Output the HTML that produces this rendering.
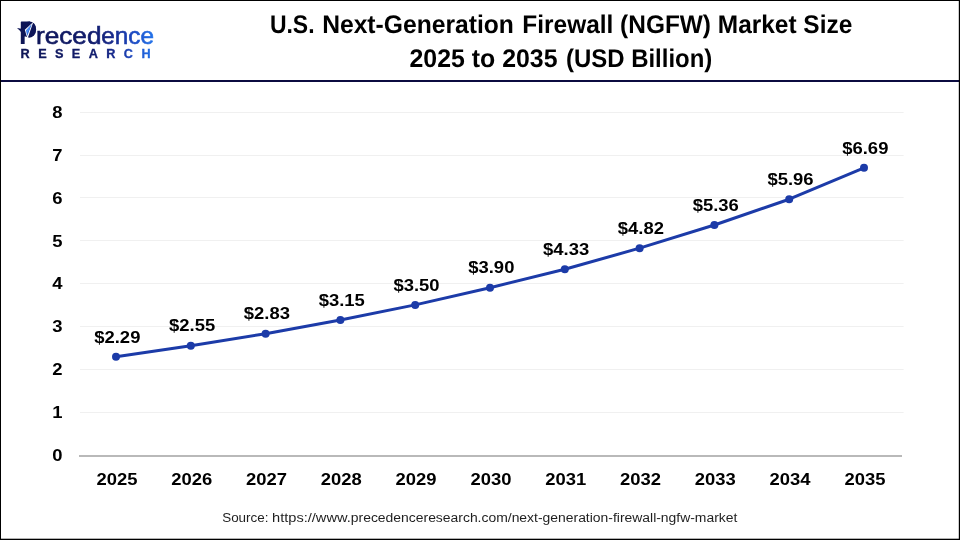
<!DOCTYPE html>
<html lang="en">
<head>
<meta charset="utf-8">
<title>U.S. Next-Generation Firewall (NGFW) Market Size 2025 to 2035 (USD Billion)</title>
<style>
html,body{margin:0;padding:0;background:#fff;}
body{width:960px;height:540px;overflow:hidden;}
svg{display:block;}
text{font-family:"Liberation Sans",sans-serif;}
.b{font-weight:700;fill:#000;}
.t{text-rendering:geometricPrecision;}
</style>
</head>
<body>
<svg width="960" height="540" viewBox="0 0 960 540">
<defs>
<linearGradient id="lg" gradientUnits="userSpaceOnUse" x1="18" y1="0" x2="153" y2="0">
<stop offset="0" stop-color="#0d1454"/>
<stop offset="0.55" stop-color="#111c6c"/>
<stop offset="0.7" stop-color="#16288a"/>
<stop offset="0.85" stop-color="#1c48c0"/>
<stop offset="1" stop-color="#2272ea"/>
</linearGradient>
<linearGradient id="lg2" gradientUnits="userSpaceOnUse" x1="-2.45" y1="0" x2="124.9" y2="0">
<stop offset="0" stop-color="#0d1454"/>
<stop offset="0.55" stop-color="#111c6c"/>
<stop offset="0.7" stop-color="#16288a"/>
<stop offset="0.85" stop-color="#1c48c0"/>
<stop offset="1" stop-color="#2272ea"/>
</linearGradient>
</defs>
<rect x="0" y="0" width="960" height="540" fill="#fff"/>
<rect x="80" y="412" width="823.6" height="1" fill="#f0f0f0"/>
<rect x="80" y="369" width="823.6" height="1" fill="#f0f0f0"/>
<rect x="80" y="326" width="823.6" height="1" fill="#f0f0f0"/>
<rect x="80" y="283" width="823.6" height="1" fill="#f0f0f0"/>
<rect x="80" y="240" width="823.6" height="1" fill="#f0f0f0"/>
<rect x="80" y="197" width="823.6" height="1" fill="#f0f0f0"/>
<rect x="80" y="155" width="823.6" height="1" fill="#f0f0f0"/>
<rect x="80" y="112" width="823.6" height="1" fill="#f0f0f0"/>
<rect x="79" y="455" width="823" height="2" fill="#b9b9b9"/>
<text class="b" font-size="16.5" text-anchor="middle" transform="translate(57.4,460.95) scale(1.118,1)">0</text>
<text class="b" font-size="16.5" text-anchor="middle" transform="translate(57.4,417.95) scale(1.118,1)">1</text>
<text class="b" font-size="16.5" text-anchor="middle" transform="translate(57.4,374.95) scale(1.118,1)">2</text>
<text class="b" font-size="16.5" text-anchor="middle" transform="translate(57.4,331.95) scale(1.118,1)">3</text>
<text class="b" font-size="16.5" text-anchor="middle" transform="translate(57.4,288.95) scale(1.118,1)">4</text>
<text class="b" font-size="16.5" text-anchor="middle" transform="translate(57.4,246.90) scale(1.118,1)">5</text>
<text class="b" font-size="16.5" text-anchor="middle" transform="translate(57.4,203.95) scale(1.118,1)">6</text>
<text class="b" font-size="16.5" text-anchor="middle" transform="translate(57.4,160.95) scale(1.118,1)">7</text>
<text class="b" font-size="16.5" text-anchor="middle" transform="translate(57.4,118.00) scale(1.118,1)">8</text>
<text class="b" font-size="16.5" text-anchor="middle" transform="translate(116.90,485) scale(1.118,1)">2025</text>
<text class="b" font-size="16.5" text-anchor="middle" transform="translate(191.70,485) scale(1.118,1)">2026</text>
<text class="b" font-size="16.5" text-anchor="middle" transform="translate(266.50,485) scale(1.118,1)">2027</text>
<text class="b" font-size="16.5" text-anchor="middle" transform="translate(341.30,485) scale(1.118,1)">2028</text>
<text class="b" font-size="16.5" text-anchor="middle" transform="translate(416.10,485) scale(1.118,1)">2029</text>
<text class="b" font-size="16.5" text-anchor="middle" transform="translate(490.90,485) scale(1.118,1)">2030</text>
<text class="b" font-size="16.5" text-anchor="middle" transform="translate(565.70,485) scale(1.118,1)">2031</text>
<text class="b" font-size="16.5" text-anchor="middle" transform="translate(640.50,485) scale(1.118,1)">2032</text>
<text class="b" font-size="16.5" text-anchor="middle" transform="translate(715.30,485) scale(1.118,1)">2033</text>
<text class="b" font-size="16.5" text-anchor="middle" transform="translate(790.10,485) scale(1.118,1)">2034</text>
<text class="b" font-size="16.5" text-anchor="middle" transform="translate(864.90,485) scale(1.118,1)">2035</text>
<polyline points="116.00,356.84 190.80,345.68 265.60,333.65 340.40,319.91 415.20,304.88 490.00,287.69 564.80,269.23 639.60,248.18 714.40,224.99 789.20,199.22 864.00,167.86" fill="none" stroke="#1c3ba8" stroke-width="3" stroke-linejoin="round" stroke-linecap="round"/>
<circle cx="116.00" cy="356.84" r="4" fill="#1c3ba8"/>
<circle cx="190.80" cy="345.68" r="4" fill="#1c3ba8"/>
<circle cx="265.60" cy="333.65" r="4" fill="#1c3ba8"/>
<circle cx="340.40" cy="319.91" r="4" fill="#1c3ba8"/>
<circle cx="415.20" cy="304.88" r="4" fill="#1c3ba8"/>
<circle cx="490.00" cy="287.69" r="4" fill="#1c3ba8"/>
<circle cx="564.80" cy="269.23" r="4" fill="#1c3ba8"/>
<circle cx="639.60" cy="248.18" r="4" fill="#1c3ba8"/>
<circle cx="714.40" cy="224.99" r="4" fill="#1c3ba8"/>
<circle cx="789.20" cy="199.22" r="4" fill="#1c3ba8"/>
<circle cx="864.00" cy="167.86" r="4" fill="#1c3ba8"/>
<text class="b" font-size="16.5" text-anchor="middle" transform="translate(117.30,342.50) scale(1.118,1)">$2.29</text>
<text class="b" font-size="16.5" text-anchor="middle" transform="translate(192.10,330.60) scale(1.118,1)">$2.55</text>
<text class="b" font-size="16.5" text-anchor="middle" transform="translate(266.90,318.50) scale(1.118,1)">$2.83</text>
<text class="b" font-size="16.5" text-anchor="middle" transform="translate(341.70,305.50) scale(1.118,1)">$3.15</text>
<text class="b" font-size="16.5" text-anchor="middle" transform="translate(416.50,290.50) scale(1.118,1)">$3.50</text>
<text class="b" font-size="16.5" text-anchor="middle" transform="translate(491.30,272.90) scale(1.118,1)">$3.90</text>
<text class="b" font-size="16.5" text-anchor="middle" transform="translate(566.10,254.50) scale(1.118,1)">$4.33</text>
<text class="b" font-size="16.5" text-anchor="middle" transform="translate(640.90,233.50) scale(1.118,1)">$4.82</text>
<text class="b" font-size="16.5" text-anchor="middle" transform="translate(715.70,210.50) scale(1.118,1)">$5.36</text>
<text class="b" font-size="16.5" text-anchor="middle" transform="translate(790.50,184.50) scale(1.118,1)">$5.96</text>
<text class="b" font-size="16.5" text-anchor="middle" transform="translate(865.30,153.50) scale(1.118,1)">$6.69</text>
<rect x="0" y="80" width="960" height="2" fill="#0b0b40"/>
<text class="b t" font-size="25.6" y="33"><tspan x="269.9" textLength="44.7" lengthAdjust="spacingAndGlyphs">U.S.</tspan> <tspan x="322.14" textLength="191.77" lengthAdjust="spacingAndGlyphs">Next-Generation</tspan> <tspan x="522.35" textLength="329.88" lengthAdjust="spacingAndGlyphs">Firewall (NGFW) Market Size</tspan></text>
<text class="b t" font-size="25.6" y="67"><tspan x="409.5" textLength="148" lengthAdjust="spacingAndGlyphs">2025 to 2035</tspan> <tspan x="566.0" textLength="146.3" lengthAdjust="spacingAndGlyphs">(USD Billion)</tspan></text>
<g fill="url(#lg)">
<ellipse cx="29.4" cy="29.6" rx="6.7" ry="8.1"/>
<rect x="21.1" y="21.5" width="9" height="8"/>
<path d="M17.0,28.0 L25,29.2 L25,31 L22.4,34.6 Q21,31 17.0,28.0 Z"/>
<text><tspan font-size="31.2" font-weight="700" x="19.1" y="43.9" textLength="17.9" lengthAdjust="spacingAndGlyphs">P</tspan><tspan font-size="24.6" x="36.0" y="44.1" textLength="65.5" lengthAdjust="spacingAndGlyphs" stroke="url(#lg)" stroke-width="0.6">reced</tspan><tspan font-size="24.6" x="101.3" y="44.1" textLength="52.8" lengthAdjust="spacingAndGlyphs" stroke="url(#lg)" stroke-width="0.6">ence</tspan></text>
<text font-size="12" font-weight="700" transform="translate(20.6,57.85) scale(1.06,1)" letter-spacing="7.9" fill="url(#lg2)" stroke="url(#lg2)" stroke-width="0.3">RESEARCH</text>
</g>
<path d="M33.3,21.9 L24.8,29.8 L27.5,38.8 Z" fill="#fff"/>
<path d="M31.7,24.2 L26.2,30.2 L27.3,36.0 Z" fill="#2a63d8"/>
<path d="M31.7,24.2 L26.2,30.2 L26.9,34.0 Z" fill="#4d8ff2"/>
<text font-size="12.5" fill="#1f1f1f" x="222.2" y="521.9" textLength="46.3" lengthAdjust="spacingAndGlyphs">Source:</text>
<text font-size="12.5" fill="#1f1f1f" y="521.9"><tspan x="272.0" textLength="78.8" lengthAdjust="spacingAndGlyphs">https://www.</tspan><tspan x="350.8" textLength="386.6" lengthAdjust="spacingAndGlyphs">precedenceresearch.com/next-generation-firewall-ngfw-market</tspan></text>
<rect x="0" y="0" width="960" height="1" fill="#000"/>
<rect x="0" y="0" width="1" height="540" fill="#000"/>
<rect x="958.8" y="0" width="1.2" height="540" fill="#000"/>
<rect x="0" y="538.7" width="960" height="1.3" fill="#000"/>
</svg>
</body>
</html>
